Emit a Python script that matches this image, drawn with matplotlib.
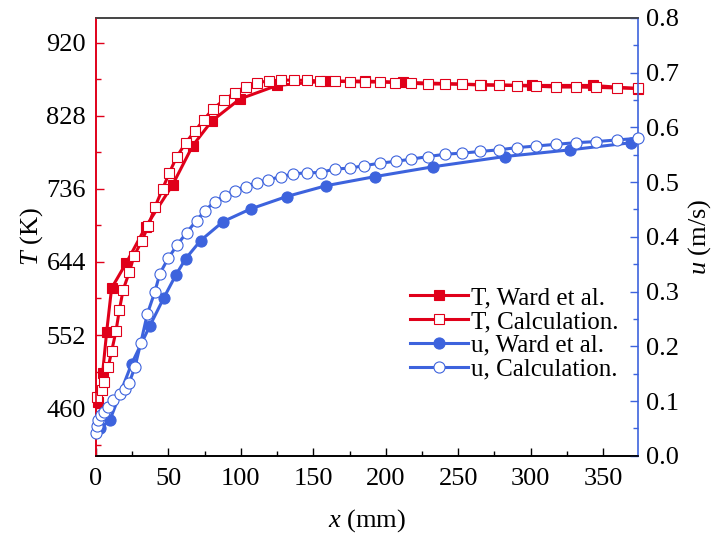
import matplotlib
matplotlib.use('Agg')
import matplotlib.pyplot as plt
from matplotlib.ticker import MultipleLocator

# T, Ward et al. (measured)
x_t_ward = [1.5, 4.6, 7.4, 10.8, 21, 34.3, 52.9, 66.7, 79.8, 99.3, 125, 159, 185.5, 211.7, 266, 301, 343, 374]
t_ward = [468, 504, 556, 611, 643, 688, 741, 790, 821, 849, 866, 871.5, 871.5, 870, 867, 866, 866, 862]

# T, calculation
x_t_calc = [0.5, 4.4, 5.5, 8.5, 10.8, 13.8, 16.1, 18.8, 23, 26.2, 31.5, 36.1, 40.7, 46, 50.6, 55.7,
            62, 68.3, 74.5, 80.9, 88.3, 95.9, 103.2, 111.2, 119.3, 127.6, 136.6, 145.3, 154.7, 164.8,
            175.2, 185.5, 195.9, 206.7, 217.7, 229.2, 240.7, 252.9, 265.3, 277.9, 290.6, 303.9,
            317.2, 331, 344.8, 359.5, 374]
t_calc = [474.6, 483, 493.5, 511.7, 531.5, 556.5, 583, 609, 631, 651, 670, 689, 713, 736, 756, 776,
          794, 808.6, 823, 836.8, 847.6, 857, 864.5, 869.6, 871.6, 872.9, 872.5, 872.5, 871.6, 871.2,
          870.8, 870.3, 870.3, 869.6, 868.7, 867.8, 867.8, 867.4, 866.5, 866.2, 865.8, 865,
          864, 864, 863.6, 862.8, 862.4]

# u, Ward et al. (measured)
x_u_ward = [3, 9.7, 24.6, 37.2, 46.9, 55.2, 62, 72.2, 87.8, 106.7, 131.5, 158.9, 192.4, 232.6, 282, 327.4, 369.4]
u_ward = [0.05, 0.0658, 0.168, 0.2374, 0.289, 0.3306, 0.3604, 0.3932, 0.428, 0.451, 0.4736, 0.4935,
          0.510, 0.528, 0.5467, 0.559, 0.572]

# u, calculation
x_u_calc = [0, 0.5, 1.6, 3.2, 5.5, 8.5, 11.9, 16.6, 20, 23, 26.9, 31, 35.4, 40.7, 44.1, 49.9, 56.1,
            62.6, 69.4, 75.2, 82.1, 88.8, 95.9, 103.2, 110.8, 118.8, 127.6, 136.1, 145.3, 155, 164.8,
            175.2, 185, 195.9, 206.9, 217.7, 229.2, 241.2, 252.9, 265.3, 277.9, 290.6, 303.9, 317.2,
            331, 344.8, 359.5, 374]
u_calc = [0.0426, 0.0548, 0.0658, 0.0749, 0.0809, 0.09, 0.1023, 0.1132, 0.1218, 0.1339, 0.162, 0.207,
          0.2588, 0.300, 0.333, 0.361, 0.3854, 0.4079, 0.4298, 0.448, 0.4645, 0.475, 0.4846, 0.4918,
          0.4992, 0.504, 0.510, 0.515, 0.517, 0.5175, 0.524, 0.5255, 0.530, 0.5346, 0.538, 0.542,
          0.5467, 0.551, 0.553, 0.556, 0.559, 0.563, 0.566, 0.569, 0.572, 0.574, 0.577, 0.580]

t_ticks = [460, 552, 644, 736, 828, 920]

RED = '#E0001A'
BLUE = '#3D63DD'

plt.rcParams['font.family'] = 'Liberation Serif'
plt.rcParams['mathtext.fontset'] = 'custom'
plt.rcParams['mathtext.it'] = 'Liberation Serif:italic'
plt.rcParams['mathtext.rm'] = 'Liberation Serif'

fig = plt.figure(figsize=(7.16, 5.42), dpi=100)
ax = fig.add_axes([0.134, 0.159, 0.757, 0.808])
ax2 = ax.twinx()

l1, = ax.plot(x_t_ward, t_ward, color=RED, lw=2.2, marker='s', ms=7, mfc=RED, mec=RED,
              mew=0.8, clip_on=False, zorder=3)
l2, = ax.plot(x_t_calc, t_calc, color=RED, lw=2.2, marker='s', ms=7.5, mfc='white', mec=RED,
              mew=0.8, clip_on=False, zorder=4)
l3, = ax2.plot(x_u_ward, u_ward, color=BLUE, lw=2.2, marker='o', ms=8, mfc=BLUE, mec=BLUE,
               mew=0.8, clip_on=False, zorder=3)
l4, = ax2.plot(x_u_calc, u_calc, color=BLUE, lw=2.2, marker='o', ms=8, mfc='white', mec=BLUE,
               mew=0.8, clip_on=False, zorder=4)

ax.set_xlim(0, 374)
ax.set_ylim(400, 951)
ax2.set_ylim(0, 0.8)

ax.xaxis.set_major_locator(MultipleLocator(50))
ax.xaxis.set_minor_locator(MultipleLocator(25))
ax.set_yticks(t_ticks)
ax.yaxis.set_minor_locator(MultipleLocator(46))
ax2.yaxis.set_major_locator(MultipleLocator(0.1))
ax2.yaxis.set_minor_locator(MultipleLocator(0.05))
ax2.set_yticklabels([f'{v:.1f}' for v in ax2.get_yticks()])

ax.tick_params(axis='both', which='both', direction='in', labelsize=19)
ax.tick_params(axis='both', which='major', length=6, width=1)
ax.tick_params(axis='both', which='minor', length=3.5, width=1)
ax.tick_params(axis='x', which='major', pad=9)
ax.tick_params(axis='y', which='major', pad=7)
ax.tick_params(axis='y', which='both', color=RED)
ax.tick_params(axis='x', which='both', top=False)
ax2.tick_params(axis='y', which='both', direction='in', color=BLUE, labelsize=19)
ax2.tick_params(axis='y', which='major', length=6, width=1, pad=6)
ax2.tick_params(axis='y', which='minor', length=3.5, width=1)

ax.spines['left'].set_color(RED)
ax2.spines['left'].set_color(RED)
ax2.spines['right'].set_color(BLUE)
ax.spines['right'].set_visible(False)
ax2.spines['top'].set_color('#444444')
ax.spines['top'].set_color('#444444')
for sp in ax2.spines.values():
    sp.set_linewidth(1.2)
for sp in ax.spines.values():
    sp.set_linewidth(1.2)

ax.set_xlabel(r'$x$ (mm)', fontsize=19, labelpad=12)
ax.set_ylabel(r'$T$ (K)', fontsize=19, labelpad=1)
ax2.set_ylabel(r'$u$ (m/s)', fontsize=19, labelpad=5)

leg = ax2.legend([l1, l2, l3, l4],
                 ['T, Ward et al.', 'T, Calculation.', 'u, Ward et al.', 'u, Calculation.'],
                 loc='lower right', bbox_to_anchor=(0.965, 0.172), frameon=False, fontsize=18,
                 handlelength=2.3, handletextpad=0.15, labelspacing=0.05, borderpad=0,
                 borderaxespad=0)

fig.savefig('out.png', dpi=100)
